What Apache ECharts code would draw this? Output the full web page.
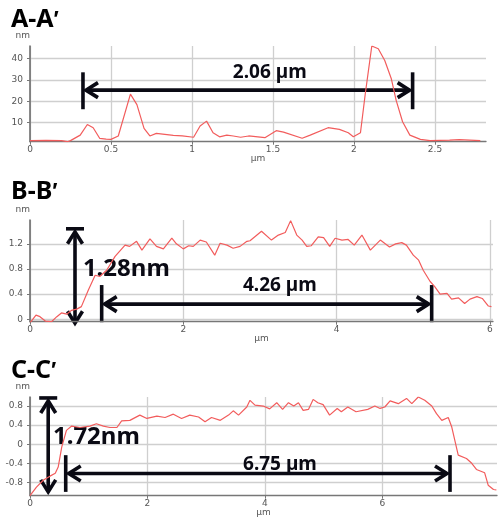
<!DOCTYPE html>
<html>
<head>
<meta charset="utf-8">
<script src="https://cdn.jsdelivr.net/npm/echarts@6/dist/echarts.min.js"></script>
<style>html,body{margin:0;padding:0;background:#fff}#c{width:500px;height:520px}</style>
</head>
<body>
<div id="c"></div>
<script>
// ---- data ----
const aX = [0,0.1,0.195,0.23,0.25,0.31,0.354,0.39,0.43,0.47,0.5,0.545,0.62,0.66,0.704,0.74,0.78,0.885,0.94,1.01,1.05,1.09,1.13,1.17,1.215,1.255,1.3,1.35,1.45,1.52,1.565,1.68,1.73,1.84,1.91,1.965,1.996,2.04,2.07,2.11,2.15,2.19,2.23,2.26,2.30,2.345,2.41,2.47,2.59,2.65,2.78];
const aY = [1.4,1.5,1.4,0.9,1.4,4,9,7.5,2.5,2.1,2.0,3.6,23.3,18.4,7.2,3.6,4.8,3.9,3.6,3.0,8.3,10.6,5.1,3.2,4.0,3.6,3.0,3.6,2.8,6.1,5.4,2.5,4.0,7.5,6.7,5.1,3.2,5.1,23.6,46,44.7,39.2,30.7,20.5,10.3,4.0,2.0,1.4,1.6,1.9,1.4];
const bX = [0,0.078,0.13,0.2,0.28,0.35,0.41,0.48,0.54,0.61,0.67,0.76,0.85,0.91,1.0,1.11,1.24,1.3,1.39,1.46,1.565,1.65,1.74,1.85,1.91,2.0,2.07,2.13,2.22,2.3,2.41,2.48,2.57,2.65,2.74,2.83,2.87,3.02,3.15,3.24,3.33,3.40,3.48,3.55,3.61,3.67,3.76,3.83,3.91,3.98,4.07,4.15,4.23,4.33,4.44,4.57,4.69,4.77,4.85,4.91,5.0,5.07,5.13,5.22,5.28,5.35,5.44,5.50,5.59,5.67,5.74,5.83,5.9,5.98,6.02];
const bY = [-0.06,0.064,0.04,-0.03,-0.04,0.04,0.1,0.08,0.14,0.16,0.2,0.46,0.7,0.68,0.78,1.0,1.18,1.16,1.24,1.1,1.28,1.16,1.12,1.29,1.2,1.12,1.17,1.16,1.26,1.23,1.02,1.21,1.18,1.13,1.16,1.24,1.25,1.4,1.26,1.34,1.38,1.57,1.34,1.26,1.16,1.17,1.31,1.3,1.16,1.29,1.26,1.27,1.18,1.34,1.1,1.26,1.15,1.2,1.22,1.18,1.02,0.94,0.78,0.6,0.52,0.4,0.41,0.32,0.34,0.25,0.32,0.36,0.33,0.21,0.2];
const cX = [0,0.11,0.23,0.34,0.43,0.48,0.54,0.62,0.71,0.85,1.02,1.13,1.25,1.36,1.48,1.56,1.7,1.87,1.99,2.16,2.3,2.44,2.58,2.72,2.87,2.98,3.09,3.24,3.38,3.46,3.55,3.69,3.745,3.83,3.97,4.08,4.2,4.3,4.4,4.49,4.57,4.65,4.74,4.82,4.9,4.99,5.1,5.23,5.3,5.41,5.55,5.75,5.87,5.96,6.04,6.13,6.27,6.41,6.5,6.61,6.72,6.84,6.92,7.01,7.12,7.18,7.29,7.43,7.52,7.6,7.74,7.8,7.89,7.94];
const cY = [-1.08,-0.9,-0.75,-0.67,-0.61,-0.48,-0.06,0.29,0.38,0.35,0.38,0.43,0.38,0.35,0.35,0.49,0.5,0.61,0.54,0.59,0.56,0.63,0.54,0.61,0.57,0.47,0.56,0.5,0.61,0.7,0.61,0.78,0.92,0.82,0.8,0.74,0.87,0.73,0.87,0.8,0.87,0.71,0.73,0.94,0.87,0.83,0.61,0.75,0.68,0.78,0.68,0.73,0.8,0.75,0.78,0.91,0.85,0.96,0.85,0.99,0.92,0.8,0.64,0.5,0.56,0.36,-0.23,-0.3,-0.4,-0.53,-0.6,-0.86,-0.95,-0.96];

const titles = ['A-A', 'B-B', 'C-C'];
const primeMark = '\u2032';
const xTicksA = [0, 0.5, 1, 1.5, 2, 2.5];
const yTicksA = [10, 20, 30, 40];
const xTicksB = [0, 2, 4, 6];
const yTicksB = [0, 0.4, 0.8, 1.2];
const xTicksC = [0, 2, 4, 6];
const yTicksC = [-0.8, -0.4, 0, 0.4, 0.8];

// annotations (data units)
const hArrows = [
  {g:0, x1:0.327, x2:2.362, y:25.2, lo:16.2, hi:33.6},
  {g:1, x1:0.935, x2:5.24, y:0.24, lo:-0.048, hi:0.544},
  {g:2, x1:0.608, x2:7.15, y:-0.614, lo:-1.0, hi:-0.23}
];
const vArrows = [
  {g:1, x:0.587, top:1.44, bottom:-0.064},
  {g:2, x:0.31, top:0.97, bottom:-1.0}
];
const labels = [
  {g:0, x:1.48, y:33.6, text:'2.06 \u00b5m', big:false},
  {g:1, x:0.69, y:0.8, text:'1.28nm', big:true},
  {g:1, x:3.26, y:0.528, text:'4.26 \u00b5m', big:false},
  {g:2, x:0.39, y:0.153, text:'1.72nm', big:true},
  {g:2, x:4.255, y:-0.42, text:'6.75 \u00b5m', big:false}
];

const zip = (xs, ys) => xs.map((x, i) => [x, ys[i]]);

const chart = echarts.init(document.getElementById('c'), null, {renderer:'canvas'});

const tickFont = {fontSize:9, fontFamily:'DejaVu Sans', color:'#555'};
function xAx(g, max, ticks) {
  return {
    type:'value', gridIndex:g, min:0, max:max,
    name:'\u00b5m', nameLocation:'middle', nameGap:11,
    nameTextStyle:{fontSize:9, fontFamily:'DejaVu Sans', color:'#555'},
    axisLine:{onZero:false, lineStyle:{color:'#777', width:1.3}},
    axisTick:{show:true, length:3, customValues:ticks, lineStyle:{color:'#777'}},
    axisLabel:Object.assign({margin:3, customValues:ticks}, tickFont),
    splitLine:{show:true, lineStyle:{color:'#cfcfcf', width:1.3}}
  };
}
function yAx(g, min, max, ticks) {
  return {
    type:'value', gridIndex:g, min:min, max:max,
    name:'nm', nameLocation:'end', nameGap:6,
    nameTextStyle:{fontSize:9, fontFamily:'DejaVu Sans', color:'#555', align:'right', verticalAlign:'bottom'},
    axisLine:{show:true, onZero:false, lineStyle:{color:'#666', width:1.5}},
    axisTick:{show:true, length:3, customValues:ticks, lineStyle:{color:'#777'}},
    axisLabel:Object.assign({margin:7, customValues:ticks}, tickFont),
    splitLine:{show:true, lineStyle:{color:'#cfcfcf', width:1.3}}
  };
}
const lineStyle = {color:'#f25c5c', width:1.2};
function ser(g, data) {
  return {type:'line', xAxisIndex:g, yAxisIndex:g, data:data, showSymbol:false, symbol:'none',
    lineStyle:lineStyle, itemStyle:{color:'#f25c5c'}, smooth:false, silent:true};
}
const titleStyle = {fontSize:25, fontWeight:'bold', fontFamily:'Noto Sans', color:'#000', lineHeight:26,
  rich:{p:{fontSize:22, fontWeight:'bold', fontFamily:'Liberation Sans', color:'#000', lineHeight:26}}};
const mkTitle = (t, top) => ({text:t + '{p|' + primeMark + '}', left:11, top:top, textStyle:titleStyle, padding:0});

chart.setOption({
  animation:false,
  backgroundColor:'#fff',
  title:[mkTitle(titles[0], 7), mkTitle(titles[1], 179), mkTitle(titles[2], 358)],
  grid:[
    {left:30, top:46, width:456, height:95.7},
    {left:30, top:220, width:463, height:101.7},
    {left:30, top:397, width:467, height:98.7}
  ],
  xAxis:[xAx(0, 2.815, xTicksA), xAx(1, 6.04, xTicksB), xAx(2, 7.95, xTicksC)],
  yAxis:[yAx(0, 0.9, 46, yTicksA), yAx(1, -0.04, 1.58, yTicksB), yAx(2, -1.08, 0.99, yTicksC)],
  series:[ser(0, zip(aX, aY)), ser(1, zip(bX, bY)), ser(2, zip(cX, cY))]
});

// ---- annotations, positioned through the axes ----
const K = '#0a0a14';
const LW = 3.6;
const px = (g, x, y) => chart.convertToPixel({gridIndex:g}, [x, y]);
const els = [];
function seg(p, q) {
  els.push({type:'line', shape:{x1:p[0], y1:p[1], x2:q[0], y2:q[1]}, style:{stroke:K, lineWidth:LW, lineCap:'butt'}, silent:true});
}
function chev(tip, dx, dy) { // dx,dy: unit direction the arrow points to
  const L = 12, W = 7.5;
  const bx = tip[0] - dx*L, by = tip[1] - dy*L;
  const nx = -dy, ny = dx;
  els.push({type:'polyline', shape:{points:[[bx+nx*W, by+ny*W], tip, [bx-nx*W, by-ny*W]]},
    style:{stroke:K, lineWidth:LW, fill:null, lineJoin:'miter', miterLimit:10}, silent:true});
}
hArrows.forEach(a => {
  const p1 = px(a.g, a.x1, a.y), p2 = px(a.g, a.x2, a.y);
  const lo1 = px(a.g, a.x1, a.lo), hi1 = px(a.g, a.x1, a.hi);
  const lo2 = px(a.g, a.x2, a.lo), hi2 = px(a.g, a.x2, a.hi);
  seg(lo1, hi1); seg(lo2, hi2);
  const t1 = [p1[0]+3, p1[1]], t2 = [p2[0]-3, p2[1]];
  seg([t1[0]+2, t1[1]], [t2[0]-2, t2[1]]);
  chev(t1, -1, 0); chev(t2, 1, 0);
});
vArrows.forEach(a => {
  const pt = px(a.g, a.x, a.top), pb = px(a.g, a.x, a.bottom);
  seg([pt[0]-9, pt[1]], [pt[0]+9, pt[1]]);
  const t1 = [pt[0], pt[1]+3], t2 = [pb[0], pb[1]];
  seg([t1[0], t1[1]+2], [t2[0], t2[1]-2]);
  chev(t1, 0, -1); chev(t2, 0, 1);
});
labels.forEach(l => {
  const p = px(l.g, l.x, l.y);
  els.push({type:'text', x:p[0], y:p[1], silent:true,
    style:{text:l.text, fill:K, font:'bold ' + (l.big ? 24 : 19) + 'px "Noto Sans"',
      align: l.big ? 'left' : 'center', verticalAlign:'middle',
      textAlign: l.big ? 'left' : 'center', textVerticalAlign:'middle'}});
});
chart.setOption({graphic:{elements:els}});
</script>
</body>
</html>
